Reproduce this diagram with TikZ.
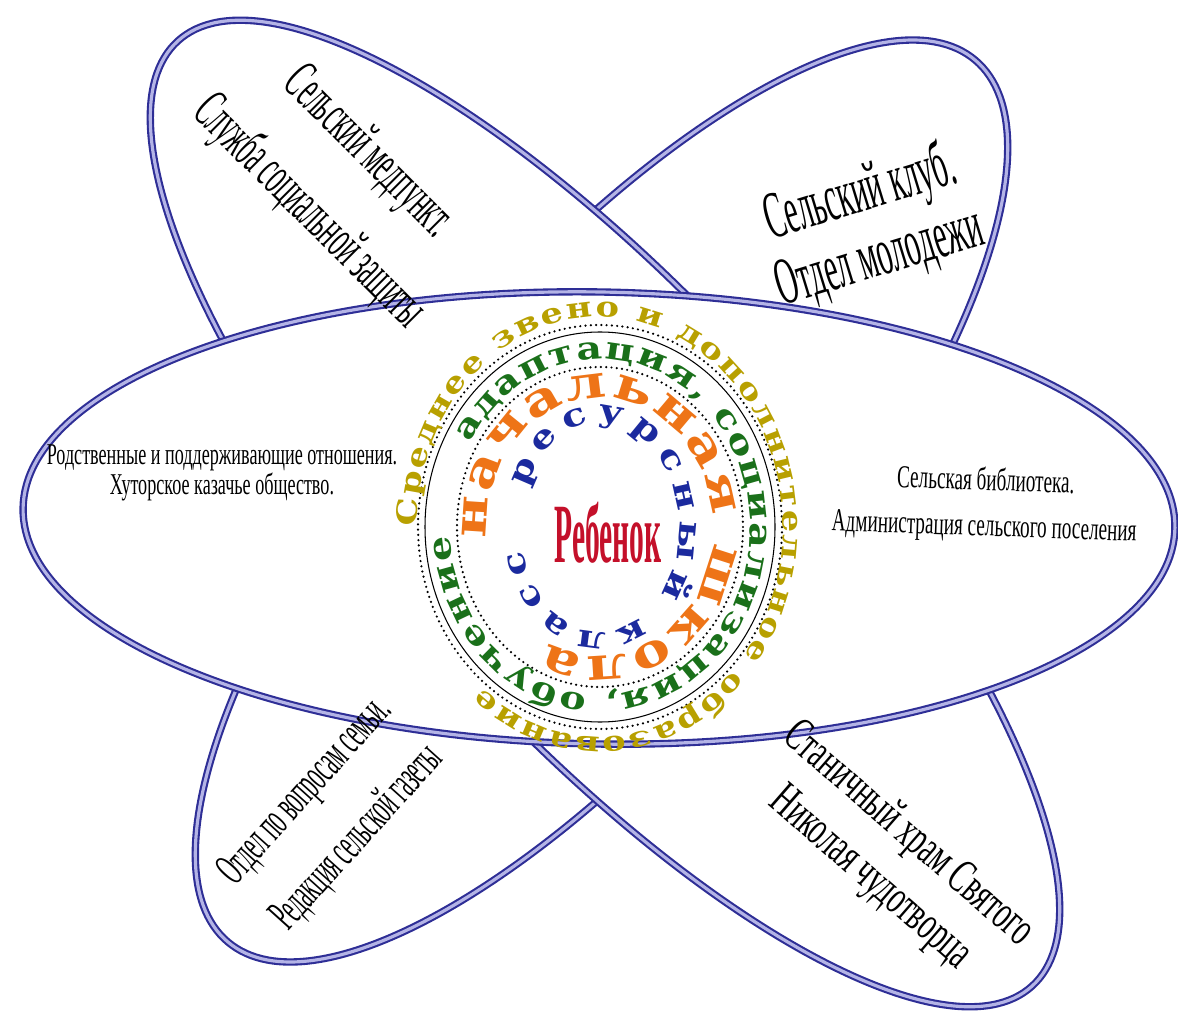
\documentclass[tikz,border=0pt]{standalone}
\usepackage{fontspec}
\usepackage{xcolor}
\usepackage{tikz}
\usetikzlibrary{decorations.text}
\setmainfont{Liberation Serif}
\newfontfamily\condfont[FakeStretch=0.6]{Liberation Serif}
\newfontfamily\narrowfont[FakeStretch=0.45]{Liberation Serif}
\newfontfamily\kidfont[FakeStretch=0.35]{Liberation Serif}
\newfontfamily\ringfont[FakeStretch=1.25]{DejaVu Serif}
\definecolor{orbitblue}{HTML}{2E2E96}
\definecolor{orbitin}{HTML}{B4B4E6}
\definecolor{ringyellow}{HTML}{B8A000}
\definecolor{ringgreen}{HTML}{1A701A}
\definecolor{ringorange}{HTML}{EE7417}
\definecolor{ringblue}{HTML}{1B2A9E}
\definecolor{kidred}{HTML}{C4102A}
\tikzset{
  orbit/.style={draw=orbitblue, double=orbitin, double distance=0.9pt, line width=0.6pt, fill=white},
  dots/.style={draw=black, line width=0.7pt, dash pattern=on 0pt off 1.5pt, line cap=round},
  ringline/.style={draw=black, line width=0.3pt},
  ringtext/.style={decorate, decoration={text along path, text align={fit to path}}},
  lab/.style={text=black, align=center, inner sep=0pt},
}

\begin{document}
\begin{tikzpicture}
  \useasboundingbox (0,0) rectangle (11.78,10.10);
  \coordinate (ctr) at (6.00,4.83);
  % three orbits
  \draw[orbit] (6.015,5.09) ellipse[x radius=5.78, y radius=2.08, rotate=49.7];
  \draw[orbit] (6.05,4.965) ellipse[x radius=6.37, y radius=2.10, rotate=-47.9];
  \draw[orbit] (5.99,4.92) ellipse[x radius=5.76, y radius=2.26, rotate=-1];
  % rings round the child
  \draw[dots] (ctr) ellipse[x radius=1.82, y radius=2.02];
  \draw[ringline] (ctr) ellipse[x radius=1.75, y radius=1.95];
  \draw[dots] (ctr) ellipse[x radius=1.43, y radius=1.60];
  \path[ringtext, decoration={text color=ringyellow,
      text={|\ringfont\bfseries\fontsize{8}{8}\selectfont|Среднее звено и дополнительное образование}}]
    (ctr) ++(180:1.83 and 2.10) arc[start angle=180, end angle=-130, x radius=1.83, y radius=2.10];
  \path[ringtext, decoration={text color=ringgreen,
      text={|\ringfont\bfseries\fontsize{9}{9}\selectfont|адаптация, социализация, обучение}}]
    (ctr) ++(150:1.50 and 1.68) arc[start angle=150, end angle=-177, x radius=1.50, y radius=1.68];
  \path[ringtext, decoration={text color=ringorange,
      text={|\ringfont\bfseries\fontsize{13}{13}\selectfont|начальная школа}}]
    (ctr) ++(185:1.13 and 1.29) arc[start angle=185, end angle=-117, x radius=1.13, y radius=1.29];
  \path[ringtext, decoration={text color=ringblue,
      text={|\ringfont\bfseries\fontsize{9}{9}\selectfont|ресурсный класс}}]
    (ctr) ++(158:0.79 and 1.05) arc[start angle=158, end angle=-167, x radius=0.79, y radius=1.05];
  \node[text=kidred, font=\kidfont\bfseries\fontsize{24}{24}\selectfont] (kid) at (6.08,4.77) {Ребенок};
  % partners
  \node[lab, rotate=-45, font=\narrowfont\fontsize{16}{24}\selectfont] (medpunkt) at (3.38,8.27)
    {Сельский медпункт.\\Служба социальной защиты};
  \node[lab, rotate=17, font=\narrowfont\fontsize{19}{19}\selectfont] (klub) at (8.70,7.84)
    {Сельский клуб.\\Отдел молодежи};
  \node[lab, font=\condfont\fontsize{8.6}{8.5}\selectfont] (rodnye) at (2.22,5.37)
    {Родственные и поддерживающие отношения.\\Хуторское казачье общество.};
  \node[lab, rotate=-2, font=\condfont\fontsize{9.1}{13}\selectfont] (biblio) at (9.85,5.05)
    {Сельская библиотека.\\Администрация сельского поселения};
  \node[lab, rotate=48, font=\narrowfont\fontsize{13.3}{20}\selectfont] (otdel) at (3.32,1.95)
    {Отдел по вопросам семьи.\\Редакция сельской газеты};
  \node[lab, rotate=-41, font=\condfont\fontsize{13.8}{16.5}\selectfont] (hram) at (8.89,1.535)
    {Станичный храм Святого\\Николая чудотворца};
\end{tikzpicture}
\end{document}
